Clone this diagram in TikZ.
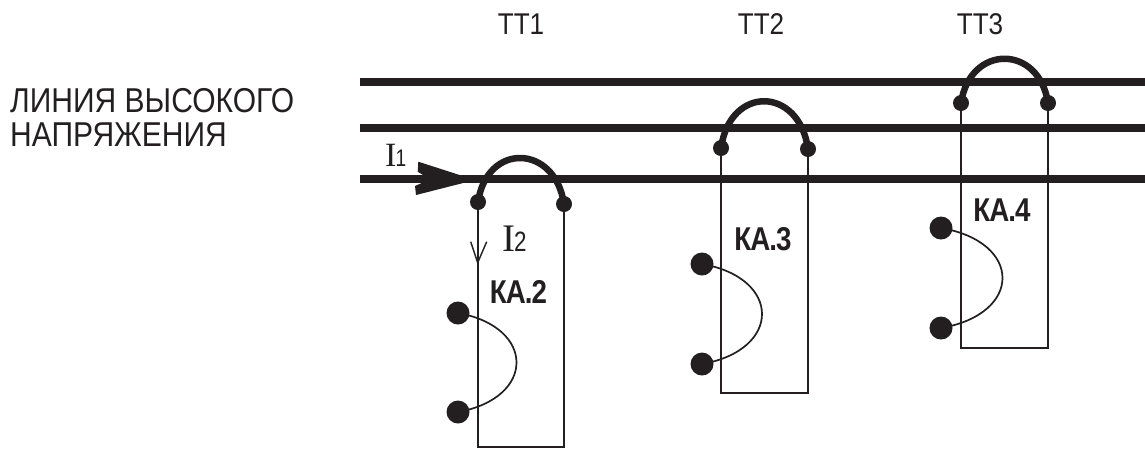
\documentclass[tikz,border=0pt]{standalone}
\usepackage{fontspec}
\setmainfont{Liberation Sans}
\newfontfamily\serifI{Liberation Serif}
\newfontfamily\headfont[FakeStretch=0.87]{Liberation Sans}
\newfontfamily\kafont[FakeStretch=0.84,LetterSpace=-3]{Liberation Sans Bold}
\newfontfamily\digitfont[FakeStretch=0.8]{Liberation Sans}
\definecolor{ink}{HTML}{231F20}
\tikzset{
  bus/.style={line width=8pt,draw=ink},
  jump/.style={line width=6.5pt,draw=ink},
  wire/.style={line width=1.7pt,draw=ink},
  term/.style={circle,fill=ink,inner sep=0pt,minimum size=16pt},
  contact/.style={circle,fill=ink,inner sep=0pt,minimum size=23pt},
  tlabel/.style={inner sep=0pt,text=ink,font=\headfont\fontsize{30}{34}\selectfont},
  kalabel/.style={inner sep=0pt,text=ink,font=\kafont\fontsize{33}{38}\selectfont},
  head/.style={inner sep=0pt,text=ink,anchor=base west,font=\headfont\fontsize{34.5}{38}\selectfont},
  cur/.style={inner sep=0pt,text=ink,anchor=base west}
}
\newcommand{\curlabel}[3]{{\serifI\fontsize{#1}{#1}\selectfont I}\kern-1pt{\digitfont\fontsize{#2}{#2}\selectfont #3}}
\begin{document}
\begin{tikzpicture}[x=1pt,y=-1pt]
\useasboundingbox (0,0) rectangle (1145,451);
% buses
\coordinate (b1a) at (360,81.5);  \coordinate (b1b) at (1145,81.5);
\coordinate (b2a) at (360,128); \coordinate (b2b) at (1145,128);
\coordinate (b3a) at (360,179); \coordinate (b3b) at (1145,179);
\draw[bus] (b1a) -- (b1b);
\draw[bus] (b2a) -- (b2b);
\draw[bus] (b3a) -- (b3b);
% terminals
\node[term] (t1a) at (478,202) {};
\node[term] (t1b) at (564,204) {};
\node[term] (t2a) at (721,148) {};
\node[term] (t2b) at (808,149) {};
\node[term] (t3a) at (961,103) {};
\node[term] (t3b) at (1048,103) {};
% contacts
\node[contact] (c1a) at (458,313) {};
\node[contact] (c1b) at (458,412) {};
\node[contact] (c2a) at (702,264) {};
\node[contact] (c2b) at (702,364) {};
\node[contact] (c3a) at (941,228) {};
\node[contact] (c3b) at (941,328) {};
% jumpers
\draw[jump] (t1a.center) .. controls +(9,-60) and +(-9,-60) .. (t1b.center);
\draw[jump] (t2a.center) .. controls +(9,-63) and +(-9,-63) .. (t2b.center);
\draw[jump] (t3a.center) .. controls +(9,-59) and +(-9,-59) .. (t3b.center);
% secondary loops
\coordinate (e1) at (0,447);
\coordinate (e2) at (0,393);
\coordinate (e3) at (0,348);
\draw[wire] (t1a) -- (t1a |- e1) -- (t1b |- e1) -- (t1b);
\draw[wire] (t2a) -- (t2a |- e2) -- (t2b |- e2) -- (t2b);
\draw[wire] (t3a) -- (t3a |- e3) -- (t3b |- e3) -- (t3b);
% relay arcs
\draw[wire] (c1a.center) .. controls +(78,14) and +(78,-14) .. (c1b.center);
\draw[wire] (c2a.center) .. controls +(80,14) and +(80,-14) .. (c2b.center);
\draw[wire] (c3a.center) .. controls +(82,14) and +(82,-14) .. (c3b.center);
% primary current arrow
\fill[ink] (418.3,161.7) -- (466.7,177.3) -- (468.3,181.7) -- (416,195) -- (415,186)
  -- (430,179.3) -- (417.7,171.7) -- cycle;
% secondary current arrow
\coordinate (sa) at (470.7,241.7);
\coordinate (sb) at (477.7,262.7);
\coordinate (sc) at (486.7,241.7);
\draw[line width=1.4pt,draw=ink] (sa) -- (sb) -- (sc);
% labels
\node[tlabel] (tt1) at (521,24) {ТТ1};
\node[tlabel] (tt2) at (761,24) {ТТ2};
\node[tlabel] (tt3) at (980,24) {ТТ3};
\node[head] (h1) at (10,112) {ЛИНИЯ ВЫСОКОГО};
\node[head] (h2) at (10,146) {НАПРЯЖЕНИЯ};
\node[kalabel] (k2) at (518.5,291.5) {КА.2};
\node[kalabel] (k3) at (763,239) {КА.3};
\node[kalabel] (k4) at (1002,210.5) {КА.4};
\node[cur] (i1) at (385,166) {\curlabel{34}{24}{1}};
\node[cur] (i2) at (502,251) {\curlabel{39}{28}{2}};
\end{tikzpicture}
\end{document}
